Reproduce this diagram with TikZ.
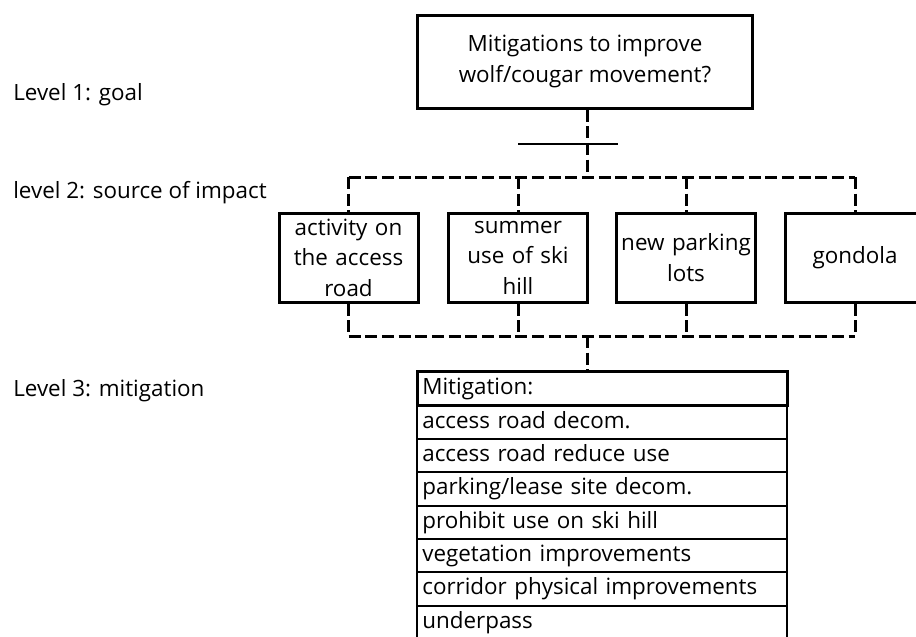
\documentclass[tikz,border=0pt]{standalone}
\usepackage{fontspec}
\setmainfont{Open Sans}
\usetikzlibrary{positioning}

\begin{document}
\begin{tikzpicture}[x=0.75pt, y=-0.75pt,
	font=\fontsize{16.8}{22.8}\selectfont,
	box/.style={draw, line width=2.25pt, align=center, inner sep=2pt},
	srcbox/.style={box, minimum width=104.25pt, minimum height=66.75pt, text width=100pt},
	link/.style={line width=2.25pt, dash pattern=on 9pt off 3.5pt},
	row/.style={draw, line width=1.5pt, minimum height=25pt, text width=269.5pt, inner xsep=4pt, inner ysep=0pt, align=left, text height=12.5pt, text depth=4pt, outer sep=0pt},
	lvl/.style={anchor=base west, inner sep=0pt}]
\useasboundingbox (0,0) rectangle (916,636);
\clip (0,0) rectangle (916,636);

\node[lvl] (lvl1) at (13,100) {Level 1: goal};
\node[lvl] (lvl2) at (13,198) {level 2: source of impact};
\node[lvl] (lvl3) at (13,396) {Level 3: mitigation};

\node[box, minimum width=251.25pt, minimum height=69.75pt] (goal) at (585,61.5) {Mitigations to improve\\wolf/cougar movement?};

\node[srcbox] (road) at (348.5,257.5) {activity on\\the access\\road};
\node[srcbox] (summer) at (518,257.5) {summer\\use of ski\\hill};
\node[srcbox] (parking) at (686,257.5) {new parking\\lots};
\node[srcbox] (gondola) at (855,257.5) {gondola};

\node[row, line width=2.25pt, minimum height=26pt, anchor=north west] (m0) at (417,371) {Mitigation:};
\foreach \txt [count=\i, remember=\i as \j (initially 0)] in {access road decom., access road reduce use, parking/lease site decom., prohibit use on ski hill, vegetation improvements, corridor physical improvements, underpass}
{
	\node[row, below=0pt of m\j] (m\i) {\txt};
}

\coordinate (topbus) at (587,177);
\coordinate (botbus) at (587,336);
\coordinate (crossL) at (518,144);
\coordinate (crossR) at (618,144);

\draw[link] (goal.south -| topbus) -- (topbus);
\draw[line width=1.5pt] (crossL) -- (crossR);
\draw[link] (road.north |- topbus) -- (gondola.north |- topbus);
\foreach \n in {road,summer,parking,gondola}
{
	\draw[link] (\n.north |- topbus) -- (\n.north);
	\draw[link] (\n.south) -- (\n.south |- botbus);
}
\draw[link] (road.south |- botbus) -- (gondola.south |- botbus);
\draw[link] (botbus) -- (botbus |- m0.north);
\end{tikzpicture}
\end{document}
